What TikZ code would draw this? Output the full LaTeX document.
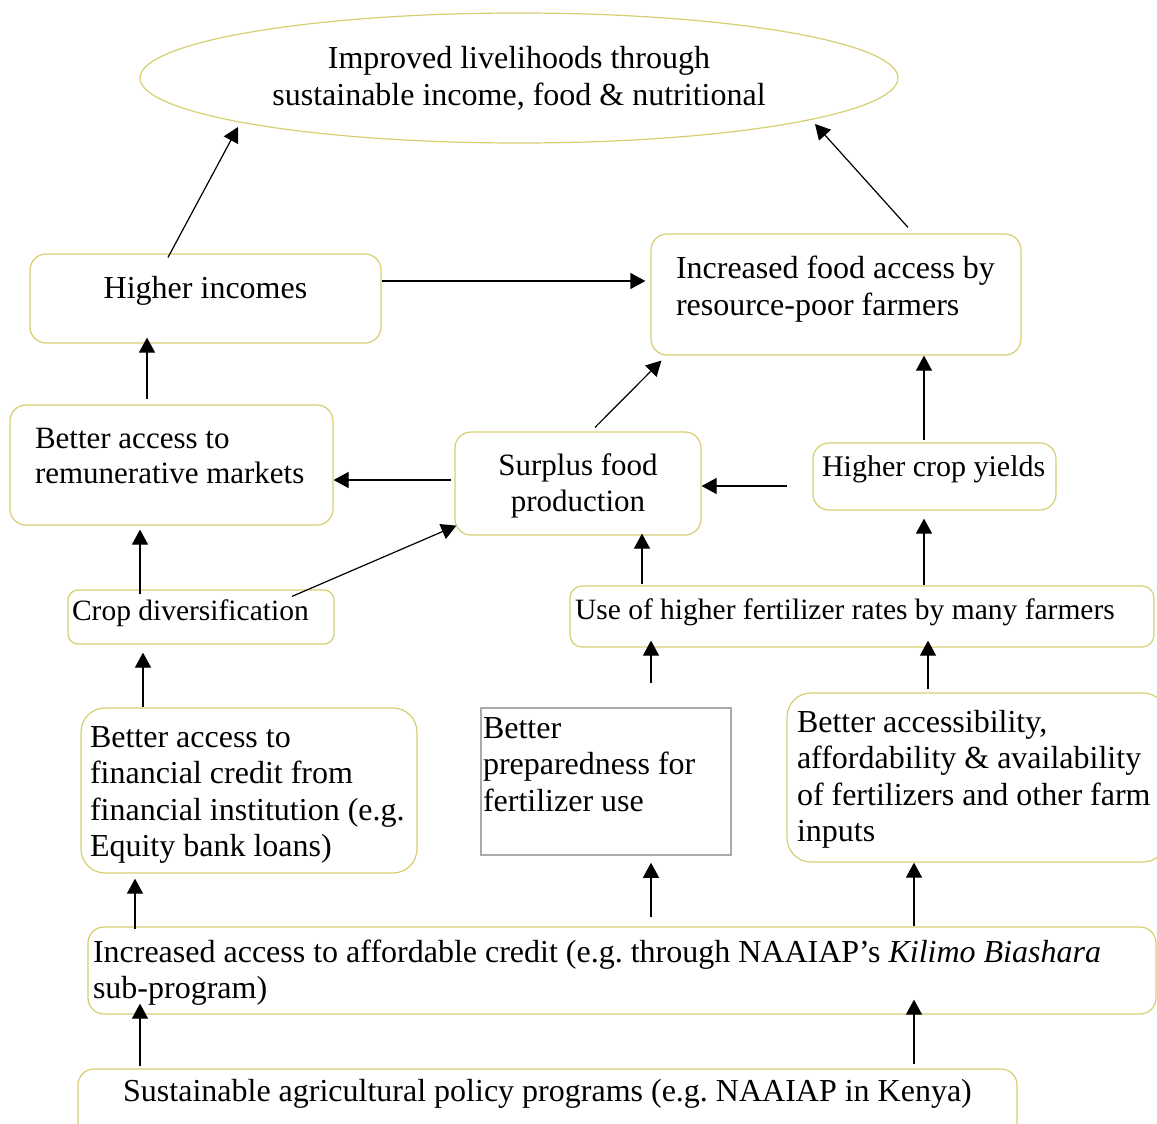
\documentclass[tikz,border=0pt]{standalone}
\usepackage{fontspec}
\setmainfont{Liberation Serif}
\usetikzlibrary{arrows.meta,shapes.geometric}
\definecolor{boxline}{RGB}{214,206,112}
\definecolor{plainline}{RGB}{170,170,170}
\frenchspacing
% width, height, left pad, first baseline, text
\newcommand{\inbox}[5]{\parbox[c][#2pt][t]{#1pt}{\raggedright\leftskip=#3pt\rule{0pt}{#4pt}#5}}
\begin{document}
\begin{tikzpicture}[x=1pt,y=-1pt,-{Triangle[length=15pt,width=16pt]},line width=1.2pt]
      \tikzstyle{box}=[rectangle,rounded corners=16pt,draw=boxline,inner sep=0pt,font=\fontsize{32}{37}\selectfont]
      \tikzstyle{small}=[font=\fontsize{29.5}{37}\selectfont]
      \tikzstyle{plainbox}=[rectangle,draw=plainline,line width=1.5pt,inner sep=0pt,font=\fontsize{32}{36.5}\selectfont]
      \tikzstyle{oval}=[ellipse,draw=boxline,inner sep=0pt,minimum width=758pt,minimum height=130pt,font=\fontsize{32}{37}\selectfont]

      \useasboundingbox (0,0) rectangle (1157,1124);

      \node[oval] (ell) at (519,78) {\inbox{530}{74}{0}{28}{\centering Improved livelihoods through\\ sustainable income, food \& nutritional}};
      \node[box] (hinc) at (205.5,298.5) {\inbox{351}{89}{0}{44}{\centering Higher incomes}};
      \node[box] (food) at (836,294.5) {\inbox{370}{121}{25}{44}{Increased food access by\\ resource-poor farmers}};
      \node[box,font=\fontsize{31}{35}\selectfont] (mkt) at (171.5,465) {\inbox{323}{120}{25}{43}{Better access to\\ remunerative markets}};
      \node[box,font=\fontsize{31}{36}\selectfont] (surp) at (578,483.5) {\inbox{246}{103}{0}{43}{\centering Surplus food\\ production}};
      \node[box,font=\fontsize{30}{37}\selectfont] (yld) at (934.5,476.5) {\inbox{243}{67}{9}{33}{Higher crop yields}};
      \node[box,small,rounded corners=10pt] (div) at (201,617) {\inbox{266}{54}{4}{30}{Crop diversification}};
      \node[box,small,rounded corners=12pt] (fert) at (862,616.5) {\inbox{584}{61}{5}{33}{Use of higher fertilizer rates by many farmers}};
      \node[box,rounded corners=24pt,font=\fontsize{32}{36.5}\selectfont] (fin) at (249,790.5) {\inbox{336}{165}{9}{39}{Better access to\\ financial credit from\\ financial institution (e.g.\\ Equity bank loans)}};
      \node[plainbox] (prep) at (606,781.5) {\inbox{250}{147}{2}{30}{Better\\ preparedness for\\ fertilizer use}};
      \node[box,rounded corners=24pt,font=\fontsize{32}{36.5}\selectfont] (inp) at (977,777.5) {\inbox{380}{169}{10}{39}{Better accessibility,\\ affordability \& availability\\ of fertilizers and other farm\\ inputs}};
      \node[box,font=\fontsize{32}{36}\selectfont] (cred) at (622,970.5) {\inbox{1068}{87}{5}{35}{Increased access to affordable credit (e.g. through NAAIAP’s \textit{Kilimo Biashara}\\ sub-program)}};
      \node[box] (pol) at (547.5,1104.5) {\inbox{939}{71}{0}{32}{\centering Sustainable agricultural policy programs (e.g. NAAIAP in Kenya)}};

      \draw ([shift={(-37.5,4)}]hinc.north) -- ([shift={(-281,49)}]ell.center);
      \draw ([shift={(72,-6)}]food.north) -- ([shift={(296,46)}]ell.center);
      \draw ([shift={(0,-17.5)}]hinc.east) -- ([shift={(-5,-13.5)}]food.west);
      \draw ([shift={(-24.5,-5)}]mkt.north) -- ([shift={(-58.5,-6)}]hinc.south);
      \draw ([shift={(-3,-3.5)}]surp.west) -- ([shift={(0,15)}]mkt.east);
      \draw ([shift={(17,-4)}]surp.north) -- ([shift={(11,5)}]food.south west);
      \draw ([shift={(-25,9.5)}]yld.west) -- ([shift={(0,2.5)}]surp.east);
      \draw ([shift={(-10.5,-2)}]yld.north) -- ([shift={(88,0)}]food.south);
      \draw ([shift={(-61,5)}]div.north) -- ([shift={(-31.5,4)}]mkt.south);
      \draw ([shift={(91,7)}]div.north) -- ([shift={(2,-10)}]surp.south west);
      \draw ([shift={(-220,-1)}]fert.north) -- ([shift={(64,-2)}]surp.south);
      \draw ([shift={(62,0)}]fert.north) -- ([shift={(-10.5,8)}]yld.south);
      \draw ([shift={(-106,0)}]fin.north) -- ([shift={(-58,8)}]div.south);
      \draw ([shift={(45,-24)}]prep.north) -- ([shift={(-211,-7)}]fert.south);
      \draw ([shift={(-49,-3)}]inp.north) -- ([shift={(66,-7)}]fert.south);
      \draw ([shift={(-487,3)}]cred.north) -- ([shift={(-114,5)}]fin.south);
      \draw ([shift={(29,-9)}]cred.north) -- ([shift={(45,7)}]prep.south);
      \draw ([shift={(292,0)}]cred.north) -- ([shift={(-63,0)}]inp.south);
      \draw ([shift={(-407.5,-2)}]pol.north) -- ([shift={(-482,-11)}]cred.south);
      \draw ([shift={(366.5,-4)}]pol.north) -- ([shift={(292,-15)}]cred.south);
\end{tikzpicture}
\end{document}
